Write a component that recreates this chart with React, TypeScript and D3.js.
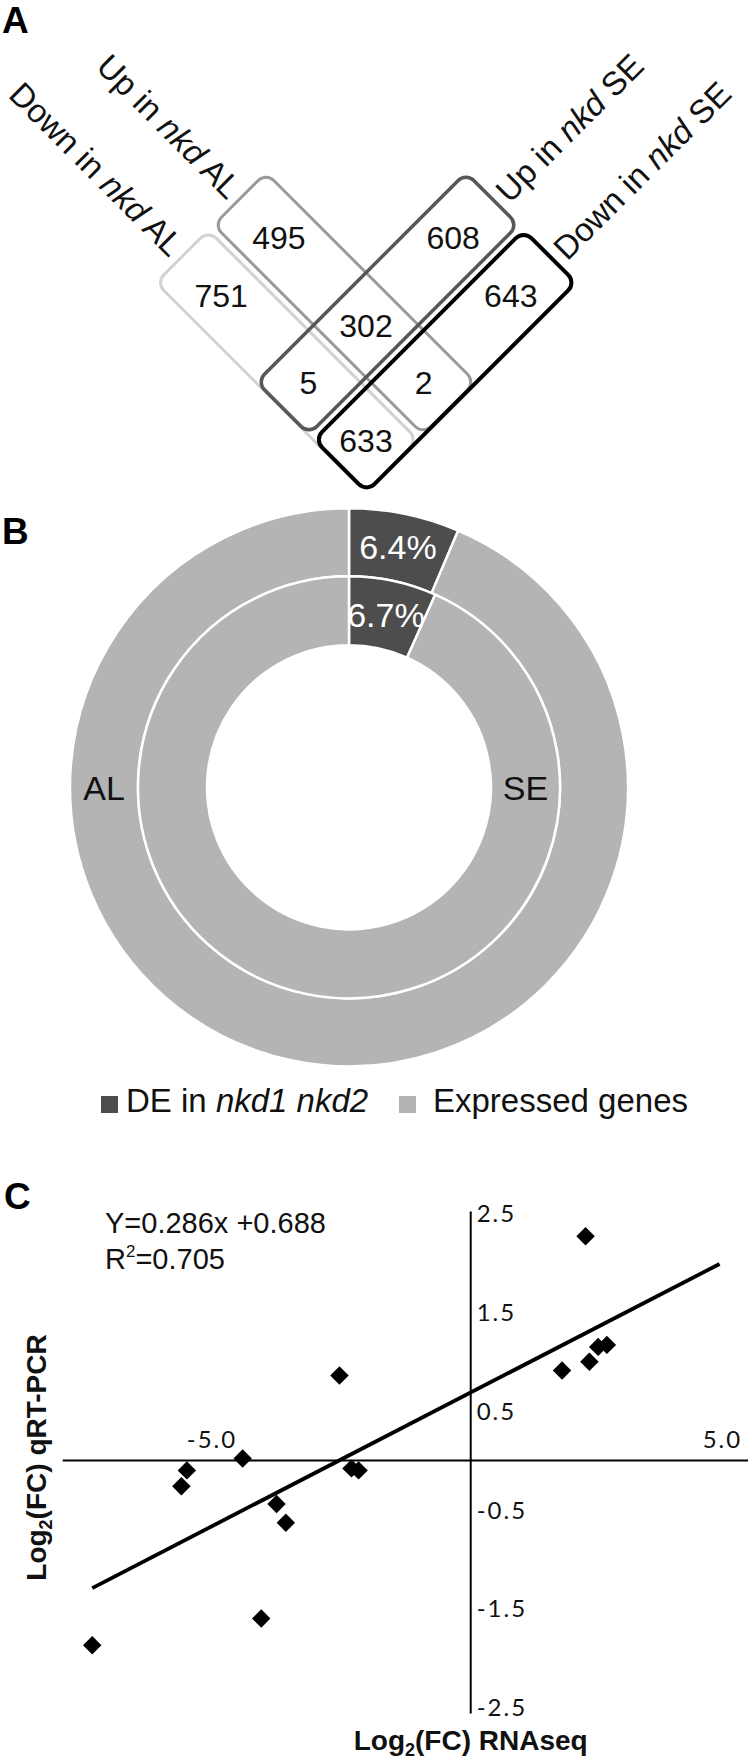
import React from 'react';
import * as d3 from 'd3';

// ---------------- Panel A data (Venn of rotated boxes) ----------------
const setPrefix = ['Down in', 'Up in', 'Up in', 'Down in'];
const setGene = 'nkd';
const setTissue = ['AL', 'AL', 'SE', 'SE'];
const setColors = ['#d2d2d2', '#9a9a9a', '#575757', '#000000'];
const setStroke = [3, 3, 3.5, 4];
// regions: which sets (index into sets) and the gene count
const regionSets: number[][] = [[0], [1], [2], [3], [1, 2], [0, 2], [1, 3], [0, 3]];
const regionCounts = [751, 495, 608, 643, 302, 5, 2, 633];

// ---------------- Panel B data (nested doughnut) ----------------
const ringNames = ['AL', 'SE']; // outer, inner
const dePercent = [6.4, 6.7];
const legendNames = ['DE in', 'Expressed genes'];
const legendItalic = 'nkd1 nkd2';
const donutColors = ['#4d4d4d', '#b4b4b4'];

// ---------------- Panel C data (scatter) ----------------
const rnaSeq = [2.1, 1.67, 2.17, 2.33, 2.49, -2.4, -4.17, -5.19, -5.29, -3.55, -3.38, -3.83, -6.92, -2.18, -2.05];
const qPcr = [2.27, 0.91, 1.0, 1.15, 1.17, 0.86, 0.02, -0.1, -0.26, -0.44, -0.63, -1.6, -1.87, -0.08, -0.1];
const trendSlope = 0.286;
const trendIntercept = 0.688;
const trendRange = [-6.92, 4.55];
const rSquared = 0.705;
const yTicks = [2.5, 1.5, 0.5, -0.5, -1.5, -2.5];
const xTicks = [-5, 5];

const FONT = "'Liberation Sans', Arial, Helvetica, sans-serif";
const TICKFONT = "Lato, 'Open Sans', 'Liberation Sans', sans-serif";

function VennPanel() {
  // geometry in rotated coordinates s = x + y, d = x - y
  const X0 = 366;
  const sC = 648;
  const dAL = [-74.3, 41];
  const L = 296;
  const Wb = 74;
  const half = (L / 2) * Math.SQRT2; // half-extent in s/d units
  const fromSD = (s: number, d: number) => [(s + d) / 2, (s - d) / 2];
  const boxes = [
    { kind: 'AL', s: sC, d: dAL[0] },
    { kind: 'AL', s: sC, d: dAL[1] },
    { kind: 'SE', s: 2 * X0 - dAL[1], d: 2 * X0 - sC },
    { kind: 'SE', s: 2 * X0 - dAL[0], d: 2 * X0 - sC },
  ];
  const offsetOnly = 78;
  const regionPos = regionSets.map((sets) => {
    if (sets.length === 2) {
      const a = boxes[sets[0]], b = boxes[sets[1]];
      return fromSD(b.s, a.d);
    }
    const b = boxes[sets[0]];
    if (b.kind === 'AL') return fromSD(b.s - half + offsetOnly, b.d);
    return fromSD(b.s, b.d + half - offsetOnly);
  });
  return (
    <g>
      <text x={2} y={33} fontSize={37} fontWeight="bold" fontFamily={FONT}>A</text>
      {boxes.map((b, i) => {
        const [cx, cy] = fromSD(b.s, b.d);
        return (
          <rect key={i} x={-L / 2} y={-Wb / 2} width={L} height={Wb} rx={11} ry={11}
            transform={`translate(${cx},${cy}) rotate(${b.kind === 'AL' ? 45 : -45})`}
            fill="none" stroke={setColors[i]} strokeWidth={setStroke[i]} />
        );
      })}
      {boxes.map((b, i) => {
        let x, y, rot, anchor;
        if (b.kind === 'AL') {
          [x, y] = fromSD(b.s - half - 11, b.d + 2 - 16.7);
          rot = 45; anchor = 'end';
        } else {
          [x, y] = fromSD(b.s + 6 + 16.7, b.d + half + 12);
          rot = -45; anchor = 'start';
        }
        return (
          <text key={i} x={0} y={0} transform={`translate(${x},${y}) rotate(${rot})`}
            textAnchor={anchor} fontSize={33} fontFamily={FONT} fill="#111">
            {setPrefix[i]} <tspan fontStyle="italic">{setGene}</tspan> {setTissue[i]}
          </text>
        );
      })}
      {regionCounts.map((c, i) => (
        <text key={i} x={regionPos[i][0]} y={regionPos[i][1]} dy="0.36em" textAnchor="middle"
          fontSize={32} fontFamily={FONT} fill="#111">{c}</text>
      ))}
    </g>
  );
}

function DonutPanel() {
  const cx = 349, cy = 787.3;
  const radii = [[211, 279], [142, 211]];
  const pie = d3.pie<number>().sort(null).value((v) => v);
  return (
    <g>
      <text x={2} y={544} fontSize={37} fontWeight="bold" fontFamily={FONT}>B</text>
      <g transform={`translate(${cx},${cy})`}>
        {ringNames.map((name, r) => {
          const arcs = pie([dePercent[r], 100 - dePercent[r]]);
          const arc = d3.arc<d3.PieArcDatum<number>>().innerRadius(radii[r][0]).outerRadius(radii[r][1]);
          const c = arc.centroid(arcs[0]);
          return (
            <g key={name}>
              {arcs.map((a, j) => (
                <path key={j} d={arc(a) || ''} fill={donutColors[j]} stroke="#fff" strokeWidth={2.5} />
              ))}
              <text x={c[0]} y={c[1]} dy="0.36em" textAnchor="middle" fill="#fff" fontSize={34} fontFamily={FONT}>
                {dePercent[r].toFixed(1)}%
              </text>
            </g>
          );
        })}
        <text x={-(radii[0][0] + radii[0][1]) / 2} y={0} dy="0.36em" textAnchor="middle" fontSize={34} fontFamily={FONT} fill="#111">{ringNames[0]}</text>
        <text x={(radii[1][0] + radii[1][1]) / 2} y={0} dy="0.36em" textAnchor="middle" fontSize={34} fontFamily={FONT} fill="#111">{ringNames[1]}</text>
      </g>
      <g fontFamily={FONT} fontSize={33} fill="#111">
        <rect x={101} y={1096} width={17} height={17} fill={donutColors[0]} />
        <text x={126} y={1111.5}>{legendNames[0]} <tspan fontStyle="italic">{legendItalic}</tspan></text>
        <rect x={399} y={1096} width={17} height={17} fill={donutColors[1]} />
        <text x={433} y={1111.5}>{legendNames[1]}</text>
      </g>
    </g>
  );
}

function ScatterPanel() {
  const x = d3.scaleLinear().domain([-7.46, 5.07]).range([62.7, 748]);
  const y = d3.scaleLinear().domain([2.5, -2.5]).range([1213.5, 1707.5]);
  const pts = rnaSeq.map((v, i) => [v, qPcr[i]]);
  const line = d3.line<number>().x((v) => x(v)).y((v) => y(trendSlope * v + trendIntercept));
  const diamond = d3.symbol().type(d3.symbolSquare).size(170)();
  return (
    <g fontFamily={FONT}>
      <text x={4} y={1209} fontSize={37} fontWeight="bold">C</text>
      <text x={105} y={1233.3} fontSize={29} fill="#111">Y={trendSlope}x +{trendIntercept}</text>
      <text x={105} y={1269} fontSize={29} fill="#111">R<tspan fontSize={17} dy={-12}>2</tspan><tspan dy={12}>={rSquared}</tspan></text>
      <line x1={x.range()[0]} x2={x.range()[1]} y1={y(0)} y2={y(0)} stroke="#000" strokeWidth={2} />
      <line x1={x(0)} x2={x(0)} y1={y(2.52)} y2={y(-2.56)} stroke="#000" strokeWidth={2} />
      <g fontFamily={TICKFONT} fontSize={24} letterSpacing={2} fill="#111">
        {yTicks.map((t) => (
          <text key={t} x={x(0) + 6} y={y(t)} dy="0.36em">{t.toFixed(1)}</text>
        ))}
        <text x={x(xTicks[0]) - 10.5} y={1448}>{xTicks[0].toFixed(1)}</text>
        <text x={x(xTicks[1]) - 2} y={1448} textAnchor="end">{xTicks[1].toFixed(1)}</text>
      </g>
      <path d={line(trendRange) || ''} stroke="#000" strokeWidth={3.8} fill="none" />
      {pts.map((p, i) => (
        <path key={i} d={diamond} transform={`translate(${x(p[0])},${y(p[1])}) rotate(45)`} fill="#000" />
      ))}
      <text x={x(0)} y={1750} textAnchor="middle" fontSize={28} fontWeight="bold" fill="#111">
        Log<tspan fontSize={18} dy={6}>2</tspan><tspan dy={-6}>(FC) RNAseq</tspan>
      </text>
      <text transform={`translate(46,${y(0) - 3}) rotate(-90)`} textAnchor="middle" fontSize={28} fontWeight="bold" fill="#111">
        Log<tspan fontSize={18} dy={6}>2</tspan><tspan dy={-6}>(FC) qRT-PCR</tspan>
      </text>
    </g>
  );
}

export default function App() {
  return (
    <svg width={752} height={1761} style={{ position: 'absolute', left: 0, top: 0, background: '#fff' }}>
      <rect width={752} height={1761} fill="#fff" />
      <VennPanel />
      <DonutPanel />
      <ScatterPanel />
    </svg>
  );
}
